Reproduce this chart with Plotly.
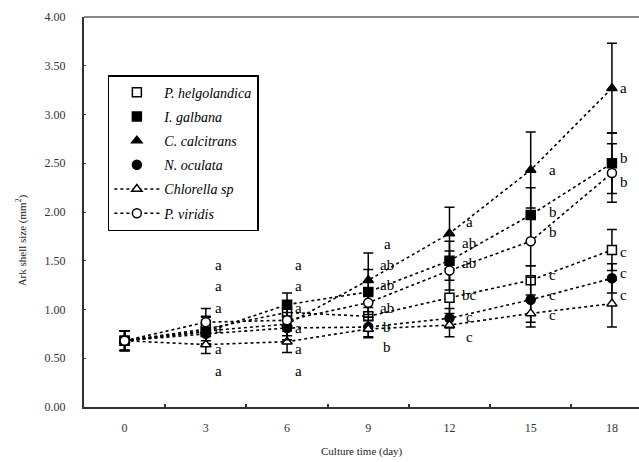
import plotly.graph_objects as go

days = [0, 3, 6, 9, 12, 15, 18]
x_ticklabels = ["0", "3", "6", "9", "12", "15", "18"]
y_tickvals = [0, 0.5, 1.0, 1.5, 2.0, 2.5, 3.0, 3.5, 4.0]

series_names = ["P. helgolandica", "I. galbana", "C. calcitrans", "N. oculata", "Chlorella sp", "P. viridis"]

p_helgolandica = [0.68, 0.80, 0.97, 0.93, 1.12, 1.30, 1.61]
i_galbana = [0.68, 0.77, 1.05, 1.18, 1.50, 1.97, 2.50]
c_calcitrans = [0.68, 0.78, 0.85, 1.30, 1.78, 2.43, 3.27]
n_oculata = [0.68, 0.75, 0.81, 0.82, 0.91, 1.10, 1.32]
chlorella = [0.68, 0.64, 0.67, 0.80, 0.84, 0.96, 1.06]
p_viridis = [0.68, 0.87, 0.89, 1.07, 1.40, 1.70, 2.40]

err_p_helgolandica = [0.10, 0.12, 0.12, 0.15, 0.30, 0.15, 0.21]
err_i_galbana = [0.10, 0.12, 0.12, 0.23, 0.20, 0.28, 0.31]
err_c_calcitrans = [0.10, 0.15, 0.12, 0.28, 0.27, 0.39, 0.46]
err_n_oculata = [0.10, 0.12, 0.12, 0.10, 0.10, 0.23, 0.15]
err_chlorella = [0.10, 0.09, 0.11, 0.09, 0.12, 0.14, 0.24]
err_p_viridis = [0.10, 0.14, 0.20, 0.15, 0.20, 0.25, 0.30]

# significance letters per day (day 0 has none)
letter_days = [3, 6, 9, 12, 15, 18]
letters = [
    ["a", "a", "a", "a", "a", "a"],
    ["a", "a", "a", "a", "a", "a"],
    ["a", "ab", "ab", "ab", "b", "b"],
    ["a", "ab", "ab", "bc", "c", "c"],
    ["a", "b", "b", "c", "c", "c"],
    ["a", "b", "b", "c", "c", "c"],
]
letter_y = [
    [1.46, 1.24, 1.02, 0.81, 0.60, 0.37],
    [1.46, 1.24, 1.02, 0.81, 0.60, 0.37],
    [1.67, 1.46, 1.25, 1.02, 0.82, 0.62],
    [1.90, 1.68, 1.48, 1.15, 0.92, 0.72],
    [2.43, 2.00, 1.79, 1.35, 1.15, 0.94],
    [3.27, 2.55, 2.31, 1.59, 1.37, 1.15],
]
letter_xshift = [13, 11, 19, 20, 22, 12]

values = [p_helgolandica, i_galbana, c_calcitrans, n_oculata, chlorella, p_viridis]
errors = [err_p_helgolandica, err_i_galbana, err_c_calcitrans, err_n_oculata, err_chlorella, err_p_viridis]
symbols = ["square", "square", "triangle-up", "circle", "triangle-up", "circle"]
fills = ["white", "black", "black", "black", "white", "white"]
sizes = [9, 9, 9, 9, 9, 9]
legend_modes = ["markers", "markers", "markers", "markers", "lines+markers", "lines+markers"]

FONT = "Liberation Serif"

fig = go.Figure()

# actual data traces
for name, v, e, sym, fc, sz in zip(series_names, values, errors, symbols, fills, sizes):
    fig.add_trace(go.Scatter(
        x=days, y=v, mode="lines+markers", name=name, showlegend=False,
        line=dict(color="black", width=1.6, dash="dot"),
        marker=dict(symbol=sym, size=sz, color=fc, line=dict(color="black", width=1.5)),
        error_y=dict(type="data", array=e, visible=True, color="black", thickness=1.5, width=5),
    ))

# legend entries
for i, (name, sym, fc, sz, md) in enumerate(zip(series_names, symbols, fills, sizes, legend_modes)):
    fig.add_trace(go.Scatter(
        x=[None], y=[None], mode=md, name=name, legendgroup=f"g{i}",
        line=dict(color="black", width=1.6, dash="dot"),
        marker=dict(symbol=sym, size=sz, color=fc, line=dict(color="black", width=1.5)),
    ))

# letters
for d, labs, ys, xs in zip(letter_days, letters, letter_y, letter_xshift):
    for lab, yy in zip(labs, ys):
        fig.add_annotation(x=d, y=yy, text=lab, showarrow=False, xanchor="center",
                           yanchor="middle", xshift=xs,
                           font=dict(family=FONT, size=15, color="black"))

# axis titles
fig.add_annotation(xref="paper", yref="paper", x=0.5, y=-0.115, text="Culture time (day)",
                   showarrow=False, xanchor="center", yanchor="middle",
                   font=dict(family=FONT, size=11, color="#222"))
fig.add_annotation(xref="paper", yref="paper", x=-0.113, y=0.428, text="Ark shell size (mm<sup>2</sup>)",
                   showarrow=False, xanchor="center", yanchor="middle", textangle=-90,
                   font=dict(family=FONT, size=11, color="#222"))

# top border line
fig.add_shape(type="line", xref="paper", yref="paper", x0=0, x1=1, y0=1, y1=1,
              line=dict(color="#888", width=2))

fig.update_layout(
    width=639, height=462,
    margin=dict(l=84, r=0, t=17, b=55),
    paper_bgcolor="white", plot_bgcolor="white",
    font=dict(family=FONT, size=12, color="#333"),
    legend=dict(
        x=0.043, y=0.851, xanchor="left", yanchor="top",
        bgcolor="white", bordercolor="black", borderwidth=1.5,
        font=dict(family=FONT, size=14, color="black", style="italic"),
        tracegroupgap=3, itemwidth=45,
    ),
    xaxis=dict(
        range=[-1.5, 19.0], tickvals=days, ticktext=x_ticklabels, ticks="",
        showgrid=False, zeroline=False, showline=True, linecolor="#333", linewidth=2,
        ticklabelstandoff=9,
        minor=dict(tickvals=[1.5, 4.5, 7.5, 10.5, 13.5, 16.5], ticks="inside", ticklen=3,
                   tickcolor="#333", tickwidth=1.5),
        tickfont=dict(family=FONT, size=12, color="#333"),
    ),
    yaxis=dict(
        range=[0, 4.0], tickvals=y_tickvals, tickformat=".2f", ticks="inside", ticklen=2,
        tickcolor="#333", showgrid=False, zeroline=False, showline=True, linecolor="#333",
        linewidth=2, ticklabelstandoff=14,
        tickfont=dict(family=FONT, size=12, color="#333"),
    ),
)

fig.write_html("out.html", config={"displayModeBar": False},
               post_script="document.body.style.margin='0px';document.body.style.overflow='hidden';")
